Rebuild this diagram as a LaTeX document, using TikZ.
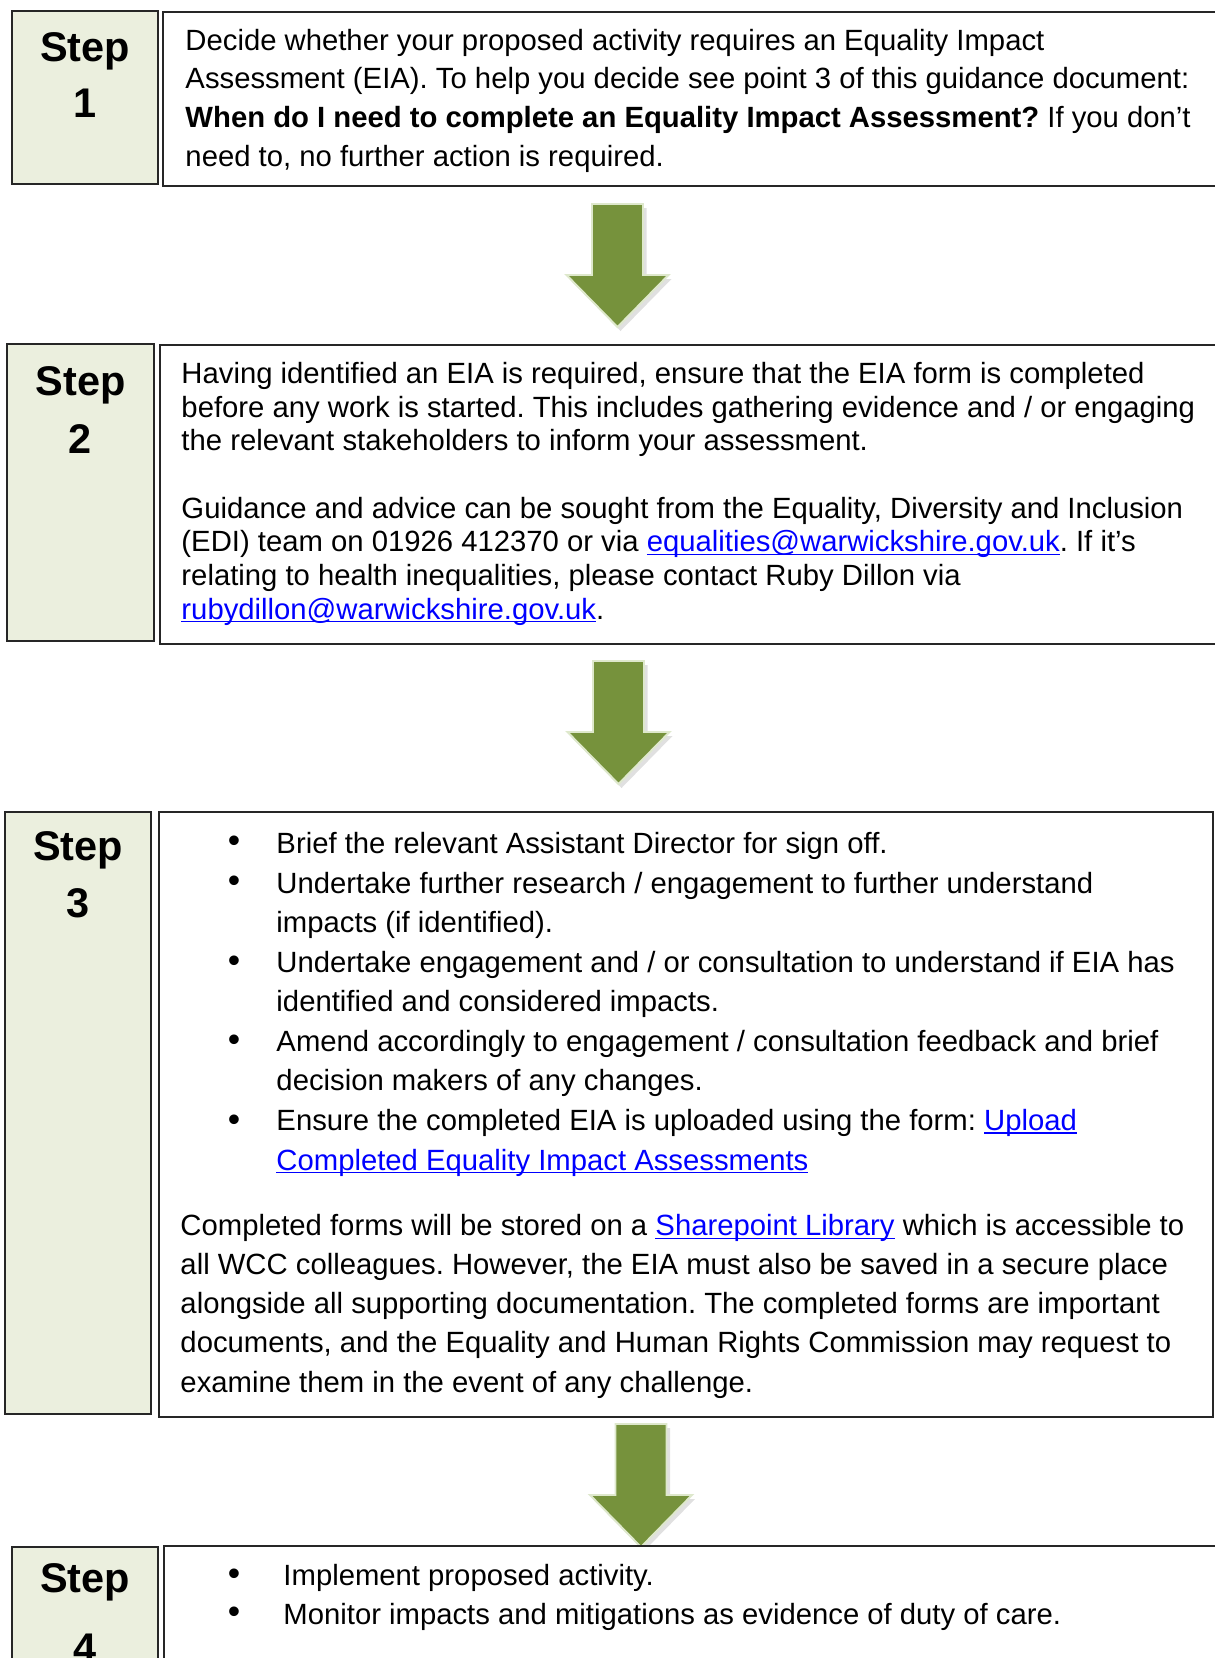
\documentclass[tikz,border=0pt]{standalone}
\usepackage{fontspec}
\setmainfont{Liberation Sans}
\usepackage{xcolor}
\usetikzlibrary{fit}
\frenchspacing
\definecolor{cStep}{RGB}{235,239,222}
\definecolor{cArrow}{RGB}{118,146,60}
\definecolor{cArrowEdge}{RGB}{222,232,204}
\definecolor{cLink}{RGB}{0,0,255}
\newcommand{\weblink}[1]{{\color{cLink}\setbox0\hbox{#1}\rlap{\rule[-1.3pt]{\wd0}{0.55pt}}\box0}}
\tikzset{
	stepbox/.style={rectangle, draw=black!85, line width=0.8pt, fill=cStep, inner sep=0pt},
	textbox/.style={rectangle, draw=black!85, line width=0.8pt, fill=white, inner sep=0pt},
	steplbl/.style={anchor=base, inner sep=0pt, font=\fontsize{17}{20}\selectfont\bfseries},
	% multi-line text: placed at the baseline of its last line
	body/.style={anchor=base west, align=left, inner sep=0pt, font=\fontsize{12}{#1}\selectfont},
	bullet/.style={anchor=base, inner sep=0pt, font=\fontsize{14.5}{16}\selectfont},
	% block arrow between the steps
	downarrow/.pic={
		\fill[black, opacity=0.12] (-22,4) -- (29,4) -- (29,75) -- (54,75) -- (3,127) -- (-48,75) -- (-22,75) -- cycle;
		\filldraw[fill=cArrow, draw=cArrowEdge, line width=0.8pt]
			(-25.5,0) -- (25.5,0) -- (25.5,71) -- (51,71) -- (0,123) -- (-51,71) -- (-25.5,71) -- cycle;
	},
}
\begin{document}
\begin{tikzpicture}[x=0.41pt, y=-0.41pt]
	\clip (0,0) rectangle (1215,1658);

	% step 1
	\node[stepbox, fit={(12,11) (158,184)}] (box1) {};
	\node[textbox, fit={(163,12) (1240,186)}] (txt1) {};
	\node[steplbl] (s1a) at (85,61) {Step};
	\node[steplbl] (s1b) at (85,117) {1};
	\node[body=15.8pt] (t1) at (185,166) {Decide whether your proposed activity requires an Equality Impact\\
		Assessment (EIA). To help you decide see point 3 of this guidance document:\\
		\textbf{When do I need to complete an Equality Impact Assessment?} If you don’t\\
		need to, no further action is required.};

	\pic at (617.5,204) {downarrow};

	% step 2
	\node[stepbox, fit={(7,344) (154,641)}] (box2) {};
	\node[textbox, fit={(160,345) (1240,644)}] (txt2) {};
	\node[steplbl] (s2a) at (80.5,395) {Step};
	\node[steplbl] (s2b) at (80.5,453) {2};
	\node[body=13.8pt] (t2) at (181,619) {Having identified an EIA is required, ensure that the EIA form is completed\\
		before any work is started. This includes gathering evidence and / or engaging\\
		the relevant stakeholders to inform your assessment.\\[13.8pt]
		Guidance and advice can be sought from the Equality, Diversity and Inclusion\\
		(EDI) team on 01926 412370 or via \weblink{equalities@warwickshire.gov.uk}. If it’s\\
		relating to health inequalities, please contact Ruby Dillon via\\
		\weblink{rubydillon@warwickshire.gov.uk}.};

	\pic at (618.5,661) {downarrow};

	% step 3
	\node[stepbox, fit={(5,812) (151,1414)}] (box3) {};
	\node[textbox, fit={(159,812) (1213,1417)}] (txt3) {};
	\node[steplbl] (s3a) at (78,860) {Step};
	\node[steplbl] (s3b) at (78,917) {3};
	\foreach \yb [count=\i] in {852,892,972,1051,1131}
		\node[bullet] (bul3\i) at (234,\yb) {•};
	\node[body=16.2pt] (t3a) at (276,1170) {Brief the relevant Assistant Director for sign off.\\
		Undertake further research / engagement to further understand\\
		impacts (if identified).\\
		Undertake engagement and / or consultation to understand if EIA has\\
		identified and considered impacts.\\
		Amend accordingly to engagement / consultation feedback and brief\\
		decision makers of any changes.\\
		Ensure the completed EIA is uploaded using the form: \weblink{Upload}\\
		\weblink{Completed Equality Impact Assessments}};
	\node[body=16pt] (t3b) at (180,1392) {Completed forms will be stored on a \weblink{Sharepoint Library} which is accessible to\\
		all WCC colleagues. However, the EIA must also be saved in a secure place\\
		alongside all supporting documentation. The completed forms are important\\
		documents, and the Equality and Human Rights Commission may request to\\
		examine them in the event of any challenge.};

	\pic at (641,1424) {downarrow};

	% step 4
	\node[stepbox, fit={(12,1547) (158,1700)}] (box4) {};
	\node[textbox, fit={(164,1546) (1240,1700)}] (txt4) {};
	\node[steplbl] (s4a) at (85,1592) {Step};
	\node[steplbl] (s4b) at (85,1662) {4};
	\foreach \yb [count=\i] in {1585,1623}
		\node[bullet] (bul4\i) at (234,\yb) {•};
	\node[body=15.6pt] (t4) at (283,1624) {Implement proposed activity.\\
		Monitor impacts and mitigations as evidence of duty of care.};
\end{tikzpicture}
\end{document}
